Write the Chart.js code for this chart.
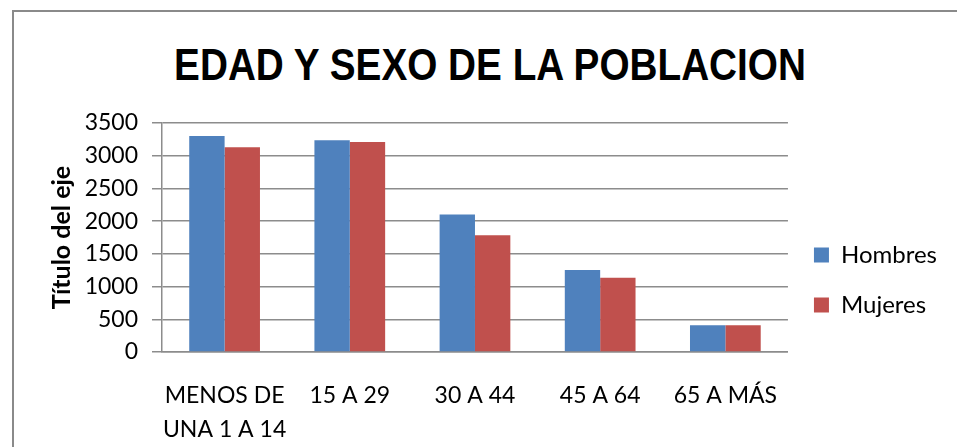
<!DOCTYPE html>
<html>
<head>
<meta charset="utf-8">
<script src="https://cdn.jsdelivr.net/npm/chart.js@4.4.1/dist/chart.umd.min.js"></script>
<style>
  html, body { margin: 0; padding: 0; background: #fff; }
  #wrap { position: relative; width: 957px; height: 447px; overflow: hidden; }
  #frame { position: absolute; left: 12px; top: 10px; width: 960px; height: 460px;
           border: 2px solid #8a8a8a; box-sizing: border-box; }
  #titulo { position: absolute; left: 0; width: 980px; top: 40px; text-align: center;
            font-family: "Liberation Sans", sans-serif; transform: scaleX(0.88);
            font-weight: bold; font-size: 44px; color: #000; }
  #chart { position: absolute; left: 0; top: 0; }
</style>
</head>
<body>
<div id="wrap">
  <div id="frame"></div>
  <div id="titulo">EDAD Y SEXO DE LA POBLACION</div>
  <canvas id="chart" width="957" height="447"></canvas>
</div>
<script>
// datos
const categorias = [["MENOS DE", "UNA 1 A 14"], "15 A 29", "30 A 44", "45 A 64", "65 A MÁS"];
const hombres = [3300, 3235, 2100, 1255, 410];
const mujeres = [3130, 3210, 1785, 1135, 410];
const ticksY = [0, 500, 1000, 1500, 2000, 2500, 3000, 3500];

const fuente = "Lato, 'Open Sans', sans-serif";
const gris = "#8c8c8c";

let data = {
    labels: categorias,
    datasets: [{
        label: "Hombres",
        backgroundColor: "#4F81BD",
        data: hombres
    }, {
        label: "Mujeres",
        backgroundColor: "#C0504D",
        data: mujeres
    }]
};

let options = {
    responsive: false,
    animation: false,
    layout: {
        padding: { top: 123, left: 45, right: 10, bottom: 10 }
    },
    datasets: {
        bar: { categoryPercentage: 0.565, barPercentage: 1 }
    },
    plugins: {
        tooltip: { enabled: false },
        legend: {
            position: "right",
            labels: {
                font: { family: fuente, size: 24 },
                color: "#000",
                boxWidth: 15,
                boxHeight: 15,
                padding: 26
            }
        }
    },
    scales: {
        y: {
            min: 0,
            max: 3500,
            afterBuildTicks: axis => { axis.ticks = ticksY.map(v => ({ value: v })); },
            afterFit: axis => { axis.width = 117; },
            ticks: {
                font: { family: fuente, size: 23 },
                color: "#000",
                padding: 14,
                autoSkip: false,
                callback: v => String(v)
            },
            grid: {
                color: gris,
                lineWidth: 1.5,
                tickLength: 10
            },
            border: { display: true, color: gris, width: 1.5 },
            title: {
                display: true,
                text: "Título del eje",
                font: { family: fuente, size: 25, weight: "bold" },
                color: "#000",
                padding: 2
            }
        },
        x: {
            afterFit: axis => { axis.height = 85; },
            grid: { display: false },
            border: { display: true, color: gris, width: 1.5 },
            ticks: {
                font: { family: fuente, size: 23, lineHeight: 1.5 },
                color: "#000",
                padding: 18,
                maxRotation: 0,
                autoSkip: false
            }
        }
    }
};

new Chart("chart", { type: "bar", data: data, options: options });
</script>
</body>
</html>
